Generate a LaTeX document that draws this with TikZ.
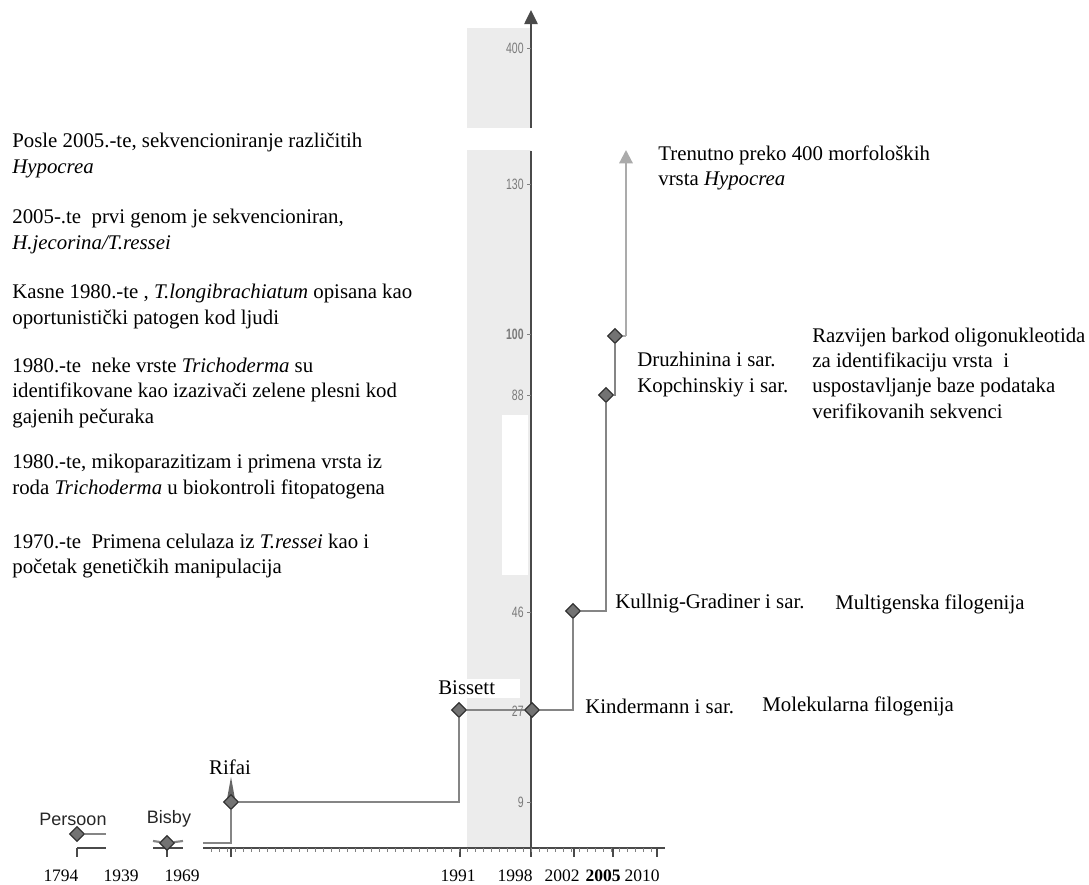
\documentclass[tikz,border=0pt]{standalone}
\usepackage{fontspec}
\setmainfont{Liberation Serif}
\newfontfamily\sanslbl{Liberation Sans}
\newfontfamily\ticklbl[FakeStretch=0.7]{Liberation Sans}
\usetikzlibrary{shapes.geometric,arrows.meta}
\definecolor{bandgray}{HTML}{ECECEC}
\definecolor{stepgray}{HTML}{858585}
\definecolor{axisgray}{HTML}{4A4A4A}
\definecolor{ticktext}{HTML}{7A7A7A}
\definecolor{arrowgray}{HTML}{ABABAB}
\pgfdeclarelayer{back}
\pgfdeclarelayer{mid}
\pgfsetlayers{back,mid,main}

\tikzset{
  pt/.style={diamond, draw=black!80, fill=black!55, line width=0.7pt, minimum size=9pt, inner sep=0pt},
  stepline/.style={draw=stepgray, line width=1.3pt},
  note/.style={anchor=west, align=left, inner sep=0pt, font=\fontsize{12.5}{15.2}\selectfont},
  yearlbl/.style={inner sep=0pt, font=\fontsize{10.5}{12}\selectfont},
  countlbl/.style={anchor=east, inner sep=0pt, text=ticktext, font=\ticklbl\fontsize{9}{10}\selectfont},
  namelbl/.style={inner sep=0pt, text=black!85, font=\sanslbl\fontsize{10.8}{12}\selectfont},
}

\begin{document}
\begin{tikzpicture}[x=0.6pt,y=-0.6pt]
			\useasboundingbox (0,0) rectangle (1089,885);
			%%%%% BAND %%%%%
			\begin{pgfonlayer}{back}
			\fill[bandgray] (467,28) rectangle (531,128);
			\fill[bandgray] (467,150) rectangle (531,848);
			\fill[white] (502,415) rectangle (528,575);
			\fill[white] (438,679) rectangle (520,698);
			\end{pgfonlayer}
			
			%%%%% AXES %%%%%
			\draw[axisgray, line width=1.2pt, -{Triangle[length=8.5pt,width=8pt]}] (531,128) -- (531,10);
			\draw[axisgray, line width=1.2pt] (531,151) -- (531,857);
			\draw[axisgray, line width=1pt] (203,848) -- (665,848);
			\draw[axisgray, line width=1pt] (77,848) -- (106,848);
			\draw[axisgray, line width=1pt] (153,848) -- (183,848);
			\foreach \x in {77,167,231,460,574,613,657}
				\draw[axisgray, line width=1pt] (\x,848) -- (\x,857);
			\foreach \x in {211,219,...,655}
				\draw[axisgray!70, line width=0.5pt] (\x,848) -- (\x,852);
			\foreach \y in {48,184,334,395,612,711,802}
				\draw[axisgray!70, line width=0.5pt] (527,\y) -- (531,\y);
			
			%%%%% COUNTS %%%%%
			\node[countlbl] (c400) at (524,48) {400};
			\node[countlbl] (c130) at (524,184) {130};
			\node[countlbl] (c100) at (524,334) {\bfseries 100};
			\node[countlbl] (c88) at (524,395) {88};
			\node[countlbl] (c46) at (524,612) {46};
			\node[countlbl] (c27) at (524,711) {27};
			\node[countlbl] (c9) at (524,802) {9};
			
			%%%%% YEARS %%%%%
			\node[yearlbl] (y1794) at (61,876) {1794};
			\node[yearlbl] (y1939) at (121,876) {1939};
			\node[yearlbl] (y1969) at (182,876) {1969};
			\node[yearlbl] (y1991) at (458,876) {1991};
			\node[yearlbl] (y1998) at (515,876) {1998};
			\node[yearlbl] (y2002) at (562,876) {2002};
			\node[yearlbl] (y2005) at (603,876) {\bfseries 2005};
			\node[yearlbl] (y2010) at (642,876) {2010};
			
			%%%%% POINTS %%%%%
			\node[pt] (persoon) at (77,834) {};
			\node[pt] (bisby) at (167,843) {};
			\node[pt] (rifai) at (231,802) {};
			\node[pt] (bissett) at (459,710) {};
			\node[pt] (kinder) at (532,710) {};
			\node[pt] (kullnig) at (573,611) {};
			\node[pt] (druzh) at (606,395) {};
			\node[pt] (kopch) at (615,336) {};
			
			\begin{pgfonlayer}{mid}
			\draw[stepline] (persoon) -- (106,834);
			\draw[stepline] (153,841) -- (bisby) -- (183,841);
			\draw[stepline] (203,843) -| (rifai);
			\fill[black!60] (227,799) -- (231,777) -- (235,799) -- cycle;
			\draw[stepline] (rifai) -| (bissett);
			\draw[stepline] (bissett) -- (kinder);
			\draw[stepline] (kinder) -| (kullnig);
			\draw[stepline] (kullnig) -| (druzh);
			\draw[stepline] (druzh) -| (kopch);
			\draw[draw=arrowgray, line width=1.3pt] (kopch) -- (626,336) coordinate (kcorner);
			\draw[draw=arrowgray, line width=1.3pt, -{Triangle[length=8pt,width=8pt]}] (kcorner) -- (626,150) coordinate (top);
			\end{pgfonlayer}
			
			%%%%% NAMES %%%%%
			\node[namelbl] (lpersoon) at (73,819) {Persoon};
			\node[namelbl] (lbisby) at (169,819) {Bisby};
			\node[note, anchor=center] (lrifai) at (230,767) {Rifai};
			\node[note] (lbissett) at (438,688) {Bissett};
			\node[note] (lkinder) at (585,706) {Kindermann i sar.};
			\node[note] (lmolek) at (762,706) {Molekularna filogenija};
			\node[note] (lkullnig) at (615,604) {Kullnig-Gradiner i sar.};
			\node[note] (lmulti) at (835,604) {Multigenska filogenija};
			\node[note] (ldruzh) at (637,374.5) {Druzhinina i sar.\\Kopchinskiy i sar.};
			\node[note] (lbarkod) at (812,373) {Razvijen barkod oligonukleotida\\za identifikaciju vrsta\ \ i\\uspostavljanje baze podataka\\verifikovanih sekvenci};
			\node[note] (ltop) at (658,168) {Trenutno preko 400 morfoloških\\vrsta \textit{Hypocrea}};
			
			%%%%% EVENTS %%%%%
			\node[note] (ev1) at (12,155.5) {Posle 2005.-te, sekvencioniranje različitih\\\textit{Hypocrea}};
			\node[note] (ev2) at (12,231.5) {2005-.te\ \ prvi genom je sekvencioniran,\\\textit{H.jecorina/T.ressei}};
			\node[note] (ev3) at (12,306.5) {Kasne 1980.-te , \textit{T.longibrachiatum} opisana kao\\oportunistički patogen kod ljudi};
			\node[note] (ev4) at (12,393) {1980.-te\ \ neke vrste \textit{Trichoderma} su\\identifikovane kao izazivači zelene plesni kod\\gajenih pečuraka};
			\node[note] (ev5) at (12,476.5) {1980.-te, mikoparazitizam i primena vrsta iz\\roda \textit{Trichoderma} u biokontroli fitopatogena};
			\node[note] (ev6) at (12,556) {1970.-te\ \ Primena celulaza iz \textit{T.ressei} kao i\\početak genetičkih manipulacija};
			
			%%%%% END %%%%%
\end{tikzpicture}
\end{document}
